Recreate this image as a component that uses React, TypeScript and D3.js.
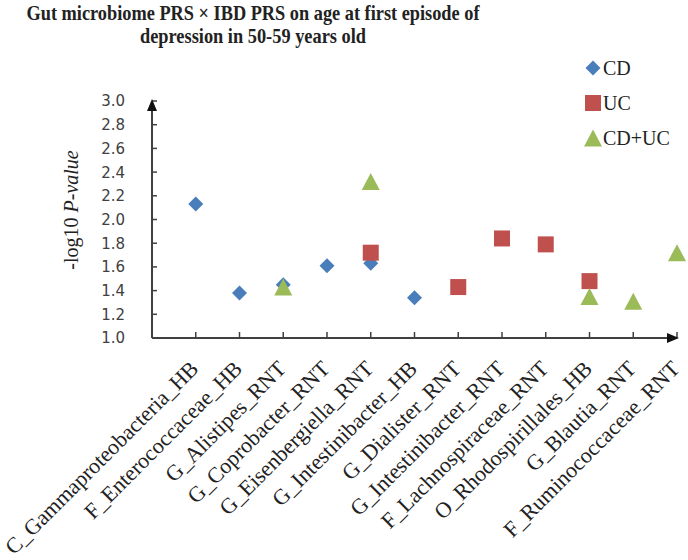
import React from "react";
import * as d3 from "d3";

const categories = [
  "C_Gammaproteobacteria_HB",
  "F_Enterococcaceae_HB",
  "G_Alistipes_RNT",
  "G_Coprobacter_RNT",
  "G_Eisenbergiella_RNT",
  "G_Intestinibacter_HB",
  "G_Dialister_RNT",
  "G_Intestinibacter_RNT",
  "F_Lachnospiraceae_RNT",
  "O_Rhodospirillales_HB",
  "G_Blautia_RNT",
  "F_Ruminococcaceae_RNT",
];

// -log10 P-values (null = no point)
const cdValues: (number | null)[] = [2.13, 1.38, 1.45, 1.61, 1.63, 1.34, null, null, null, null, null, null];
const ucValues: (number | null)[] = [null, null, null, null, 1.72, null, 1.43, 1.84, 1.79, 1.48, null, null];
const cdUcValues: (number | null)[] = [null, null, 1.43, null, 2.32, null, null, null, null, 1.35, 1.31, 1.72];

const yTicks = [1.0, 1.2, 1.4, 1.6, 1.8, 2.0, 2.2, 2.4, 2.6, 2.8, 3.0];
const seriesNames = ["CD", "UC", "CD+UC"];
const colors = ["#4A7EBB", "#C0504D", "#9BBB59"];

const W = 688;
const H = 560;
const x0 = 152, x1 = 677, yBottom = 338, yTop = 101;

function markerPath(kind: number, cx: number, cy: number) {
  if (kind === 0) {
    const r = 7.5;
    return `M${cx},${cy - r}L${cx + r},${cy}L${cx},${cy + r}L${cx - r},${cy}Z`;
  }
  if (kind === 1) {
    const s = 8;
    return `M${cx - s},${cy - s}H${cx + s}V${cy + s}H${cx - s}Z`;
  }
  const hw = 9, hh = 8.5;
  return `M${cx},${cy - hh}L${cx + hw},${cy + hh}L${cx - hw},${cy + hh}Z`;
}

export default function App() {
  const x = d3.scaleLinear().domain([0, categories.length]).range([x0, x1]);
  const y = d3.scaleLinear().domain([1, 3]).range([yBottom, yTop]);
  const allSeries = [cdValues, ucValues, cdUcValues];
  const serif = "'Liberation Serif', 'Times New Roman', serif";
  const sans = "'DejaVu Sans', Verdana, sans-serif";
  const axisColor = "#404040";

  return (
    <svg width={W} height={H} style={{ display: "block", position: "absolute", left: 0, top: 0 }} viewBox={`0 0 ${W} ${H}`}>
      <rect width={W} height={H} fill="#fff" />
      <text x={253} y={20} textAnchor="middle" fontFamily={serif} fontWeight="bold" fontSize={22}
        textLength={453} lengthAdjust="spacingAndGlyphs" fill="#222">
        Gut microbiome PRS × IBD PRS on age at first episode of
      </text>
      <text x={253} y={43} textAnchor="middle" fontFamily={serif} fontWeight="bold" fontSize={22}
        textLength={226} lengthAdjust="spacingAndGlyphs" fill="#222">
        depression in 50-59 years old
      </text>

      {/* y ticks */}
      {yTicks.map((t) => (
        <g key={t}>
          <line x1={x0} x2={x0 + 5} y1={y(t)} y2={y(t)} stroke={axisColor} strokeWidth={1.5} />
          <text x={125} y={y(t)} dy="0.36em" textAnchor="end" fontFamily={sans} fontSize={15} fill="#404040">
            {t.toFixed(1)}
          </text>
        </g>
      ))}
      {/* x ticks */}
      {categories.map((c, i) => (
        <line key={c} x1={x(i + 1)} x2={x(i + 1)} y1={yBottom} y2={yBottom - 6} stroke={axisColor} strokeWidth={1.5} />
      ))}
      {/* axes */}
      <line x1={x0} x2={x0} y1={yBottom} y2={yTop + 6} stroke={axisColor} strokeWidth={2} />
      <path d={`M${x0},${yTop - 2}L${x0 - 5},${yTop + 10}L${x0 + 5},${yTop + 10}Z`} fill="#111" />
      <line x1={x0} x2={x1 - 6} y1={yBottom} y2={yBottom} stroke={axisColor} strokeWidth={2} />
      <path d={`M${x1 + 2},${yBottom}L${x1 - 10},${yBottom - 5}L${x1 - 10},${yBottom + 5}Z`} fill="#111" />

      {/* y axis title */}
      <text transform={`translate(78,210) rotate(-90)`} textAnchor="middle" fontFamily={serif} fontSize={20} fill="#222">
        -log10 <tspan fontStyle="italic">P-value</tspan>
      </text>

      {/* x labels */}
      {categories.map((c, i) => (
        <text key={c} transform={`translate(${x(i + 1) + 4},${yBottom + 32}) rotate(-45)`} textAnchor="end"
          fontFamily={serif} fontSize={22} fill="#222">
          {c}
        </text>
      ))}

      {/* points */}
      {allSeries.map((vals, si) =>
        vals.map((v, i) =>
          v == null ? null : (
            <path key={`${si}-${i}`} d={markerPath(si, x(i + 1), y(v))} fill={colors[si]} />
          )
        )
      )}

      {/* legend */}
      {seriesNames.map((n, si) => (
        <g key={n}>
          <path d={markerPath(si, 593, 68 + si * 35)} fill={colors[si]} />
          <text x={603} y={68 + si * 35} dy="0.35em" fontFamily={serif} fontSize={20} fill="#222">{n}</text>
        </g>
      ))}
    </svg>
  );
}
